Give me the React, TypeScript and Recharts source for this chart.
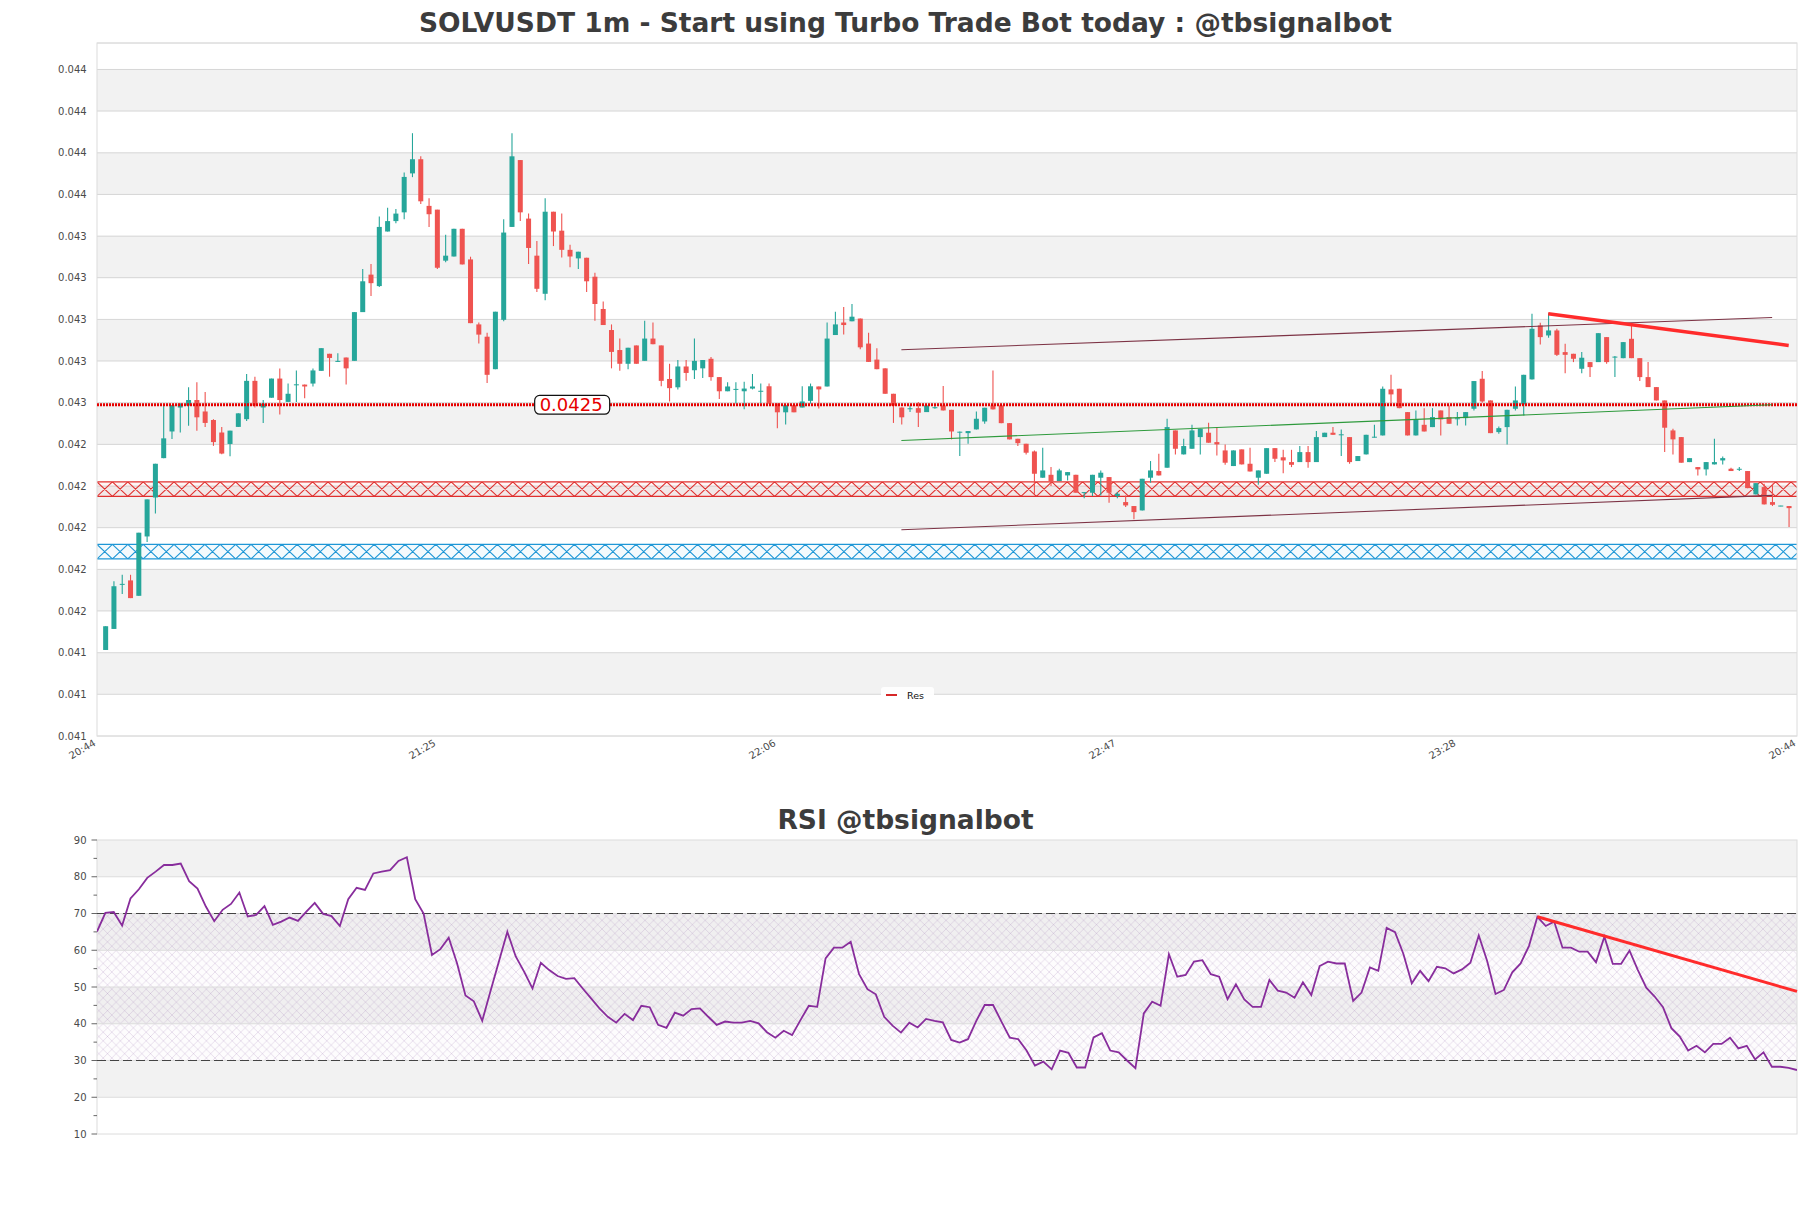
import React from 'react';
import {
  ComposedChart,
  Bar,
  Line,
  XAxis,
  YAxis,
  CartesianGrid,
  ReferenceLine,
  ReferenceArea,
  ReferenceDot,
} from 'recharts';

// ---------------- data ----------------
const candleOpen = [
  0.041323, 0.041424, 0.041636, 0.041657, 0.041583, 0.041868, 0.042055, 0.042244, 0.042372, 0.042487,
  0.042496, 0.042523, 0.042468, 0.042427, 0.042367, 0.042312, 0.042394, 0.042431, 0.042615, 0.042487,
  0.042534, 0.042626, 0.042514, 0.042594, 0.042597, 0.042602, 0.042663, 0.042745, 0.042706, 0.042727,
  0.042711, 0.042945, 0.043125, 0.04307, 0.043332, 0.043382, 0.043424, 0.043611, 0.043679, 0.043455,
  0.043437, 0.043192, 0.043212, 0.043345, 0.043198, 0.042886, 0.042827, 0.042671, 0.042908, 0.043354,
  0.043675, 0.043394, 0.043216, 0.043033, 0.043427, 0.043336, 0.043244, 0.043203, 0.043206, 0.043115,
  0.04296, 0.042859, 0.042763, 0.042697, 0.042785, 0.042711, 0.042818, 0.042785, 0.042624, 0.042584,
  0.042684, 0.042666, 0.042675, 0.042721, 0.042633, 0.042565, 0.042572, 0.042565, 0.042578, 0.042563,
  0.042589, 0.042506, 0.042464, 0.042498, 0.042487, 0.042519, 0.042588, 0.042588, 0.042835, 0.042895,
  0.042901, 0.042914, 0.042794, 0.042717, 0.042675, 0.042553, 0.042487, 0.042479, 0.042484, 0.042465,
  0.042484, 0.042497, 0.042476, 0.042367, 0.042364, 0.042382, 0.04242, 0.042497, 0.042497, 0.042412,
  0.042337, 0.042313, 0.042276, 0.04215, 0.042164, 0.042134, 0.042161, 0.042164, 0.042077, 0.042078,
  0.04215, 0.042153, 0.042062, 0.042033, 0.042014, 0.041993, 0.04215, 0.042182, 0.042198, 0.042377,
  0.042262, 0.042289, 0.042345, 0.042366, 0.042321, 0.042281, 0.042206, 0.042286, 0.042217, 0.04215,
  0.042169, 0.042292, 0.042248, 0.042225, 0.042225, 0.042273, 0.042225, 0.042345, 0.042366, 0.042354,
  0.042345, 0.04223, 0.042262, 0.042343, 0.042353, 0.042574, 0.042577, 0.042465, 0.042353, 0.042404,
  0.042393, 0.042473, 0.042441, 0.042431, 0.042436, 0.042481, 0.042625, 0.042521, 0.042369, 0.042393,
  0.042481, 0.042502, 0.042622, 0.042881, 0.042833, 0.042857, 0.042753, 0.042745, 0.042673, 0.042705,
  0.042705, 0.042825, 0.042727, 0.042724, 0.042817, 0.042724, 0.042633, 0.042585, 0.042521, 0.042377,
  0.042345, 0.042225, 0.042201, 0.04219, 0.042214, 0.042233, 0.042193, 0.042189, 0.042182, 0.04207,
  0.042105, 0.042033, 0.042013, 0.042014,
];

const candleHigh = [
  0.041437, 0.041653, 0.041684, 0.041684, 0.041886, 0.042046, 0.042217, 0.042501, 0.042498, 0.042508,
  0.042584, 0.042608, 0.042562, 0.042431, 0.042394, 0.042376, 0.042459, 0.042648, 0.042635, 0.042523,
  0.042626, 0.042674, 0.042602, 0.042665, 0.042597, 0.042674, 0.042772, 0.042745, 0.042748, 0.042727,
  0.042945, 0.043152, 0.043176, 0.043404, 0.043446, 0.04344, 0.043615, 0.043804, 0.043693, 0.043492,
  0.043437, 0.043317, 0.043345, 0.043345, 0.043211, 0.042895, 0.042846, 0.042947, 0.043391, 0.043804,
  0.043675, 0.043418, 0.043286, 0.043492, 0.043427, 0.043418, 0.043268, 0.043235, 0.043206, 0.043134,
  0.042996, 0.042886, 0.042818, 0.042774, 0.042785, 0.042904, 0.042895, 0.042785, 0.042697, 0.042715,
  0.042715, 0.042818, 0.042715, 0.04273, 0.042633, 0.042608, 0.042608, 0.042611, 0.042648, 0.042602,
  0.042602, 0.042506, 0.042498, 0.042498, 0.042589, 0.042602, 0.042588, 0.042895, 0.042947, 0.042969,
  0.042984, 0.042914, 0.042846, 0.042772, 0.042675, 0.042553, 0.042487, 0.042497, 0.042513, 0.042497,
  0.042494, 0.04259, 0.042476, 0.042372, 0.042374, 0.042468, 0.042486, 0.042665, 0.042497, 0.042412,
  0.042337, 0.042313, 0.042281, 0.042294, 0.042201, 0.042193, 0.042177, 0.042164, 0.04208, 0.042164,
  0.042185, 0.042153, 0.042081, 0.042065, 0.042014, 0.042145, 0.04223, 0.042265, 0.042433, 0.042377,
  0.042337, 0.042404, 0.042385, 0.042414, 0.042393, 0.04231, 0.042281, 0.042286, 0.042294, 0.042185,
  0.042292, 0.042292, 0.042284, 0.042284, 0.042302, 0.042302, 0.042374, 0.042366, 0.042393, 0.042382,
  0.042345, 0.042254, 0.042356, 0.042404, 0.042588, 0.042644, 0.042577, 0.042465, 0.042473, 0.042484,
  0.042484, 0.042473, 0.042497, 0.042465, 0.042465, 0.042614, 0.042662, 0.042521, 0.042396, 0.042476,
  0.042588, 0.042644, 0.042937, 0.042894, 0.04294, 0.042865, 0.042793, 0.042745, 0.042753, 0.042705,
  0.042844, 0.042825, 0.042734, 0.042801, 0.042881, 0.042724, 0.042705, 0.042585, 0.042521, 0.042385,
  0.042345, 0.042244, 0.042201, 0.042225, 0.042337, 0.042252, 0.042198, 0.042201, 0.042182, 0.042124,
  0.042121, 0.042121, 0.042015, 0.042014,
];

const candleLow = [
  0.041323, 0.041424, 0.041592, 0.041572, 0.041583, 0.041841, 0.041978, 0.042244, 0.042336, 0.042367,
  0.0424, 0.042376, 0.042394, 0.042303, 0.042263, 0.042253, 0.042394, 0.042422, 0.042487, 0.042413,
  0.042534, 0.042454, 0.042514, 0.042514, 0.042532, 0.042588, 0.042663, 0.042635, 0.042706, 0.042597,
  0.042711, 0.042945, 0.043022, 0.043066, 0.043332, 0.043372, 0.043391, 0.043593, 0.043464, 0.043354,
  0.043152, 0.043184, 0.043212, 0.043174, 0.042892, 0.042794, 0.042605, 0.042671, 0.042901, 0.043354,
  0.043382, 0.043176, 0.043042, 0.043002, 0.043262, 0.043207, 0.043161, 0.043152, 0.043042, 0.042904,
  0.042883, 0.042675, 0.042663, 0.042671, 0.042697, 0.042711, 0.042791, 0.042589, 0.042516, 0.042574,
  0.042615, 0.042624, 0.042629, 0.042615, 0.042528, 0.042565, 0.042506, 0.042479, 0.042574, 0.042506,
  0.042506, 0.042387, 0.042405, 0.042464, 0.042487, 0.042506, 0.042482, 0.042588, 0.042835, 0.042837,
  0.042901, 0.042767, 0.042706, 0.042671, 0.042553, 0.042413, 0.042405, 0.042465, 0.042393, 0.042465,
  0.042481, 0.042473, 0.042334, 0.042254, 0.042313, 0.042382, 0.042409, 0.042478, 0.042412, 0.042334,
  0.042302, 0.042262, 0.042073, 0.04215, 0.04211, 0.042134, 0.042137, 0.042078, 0.042052, 0.042062,
  0.042065, 0.04203, 0.042052, 0.042009, 0.04195, 0.041993, 0.042126, 0.042161, 0.042198, 0.042262,
  0.042262, 0.042289, 0.042262, 0.042318, 0.042257, 0.042212, 0.042206, 0.042214, 0.04218, 0.042116,
  0.042169, 0.042225, 0.042172, 0.042201, 0.042225, 0.042198, 0.042225, 0.042345, 0.042356, 0.042254,
  0.042217, 0.04223, 0.042262, 0.042343, 0.042353, 0.042505, 0.042484, 0.042353, 0.042353, 0.042372,
  0.042393, 0.042353, 0.042409, 0.042401, 0.042401, 0.042473, 0.04251, 0.042364, 0.042361, 0.04231,
  0.042473, 0.042449, 0.042622, 0.04279, 0.042822, 0.042734, 0.042652, 0.042705, 0.042652, 0.042633,
  0.042705, 0.042697, 0.042633, 0.042724, 0.042724, 0.042614, 0.042585, 0.042521, 0.042273, 0.042262,
  0.042222, 0.042225, 0.042161, 0.042161, 0.042214, 0.042214, 0.042182, 0.042182, 0.0421, 0.04207,
  0.042022, 0.042014, 0.042013, 0.041913,
];

const candleClose = [
  0.041437, 0.041629, 0.04164, 0.041572, 0.041886, 0.042046, 0.042217, 0.042339, 0.042498, 0.042505,
  0.042523, 0.04244, 0.042413, 0.042321, 0.042266, 0.042376, 0.042459, 0.042615, 0.042496, 0.042506,
  0.042626, 0.042523, 0.042553, 0.042598, 0.042588, 0.042665, 0.042772, 0.042725, 0.042711, 0.042675,
  0.042945, 0.043093, 0.043084, 0.043354, 0.043382, 0.043418, 0.043594, 0.043679, 0.043477, 0.043415,
  0.043158, 0.043216, 0.043345, 0.043174, 0.042892, 0.042837, 0.042644, 0.042947, 0.043327, 0.043693,
  0.043424, 0.043253, 0.043057, 0.043427, 0.043332, 0.043244, 0.043212, 0.043235, 0.043093, 0.042984,
  0.042883, 0.042754, 0.042697, 0.042774, 0.042697, 0.042818, 0.042791, 0.042615, 0.04258, 0.042684,
  0.042653, 0.042711, 0.042715, 0.042633, 0.042565, 0.042588, 0.042576, 0.042578, 0.042588, 0.042567,
  0.042506, 0.042464, 0.042498, 0.042464, 0.042516, 0.042589, 0.042574, 0.042818, 0.042886, 0.042883,
  0.042923, 0.042776, 0.042706, 0.042671, 0.042553, 0.042496, 0.04244, 0.042483, 0.042462, 0.042497,
  0.042488, 0.042473, 0.042372, 0.04237, 0.042374, 0.042433, 0.042486, 0.042478, 0.042412, 0.042334,
  0.042316, 0.04227, 0.042169, 0.042185, 0.042132, 0.042185, 0.042177, 0.042078, 0.04208, 0.042164,
  0.042174, 0.042078, 0.042073, 0.042017, 0.041985, 0.042145, 0.042185, 0.042161, 0.042393, 0.042289,
  0.042302, 0.042377, 0.042385, 0.042318, 0.04231, 0.042222, 0.042281, 0.042214, 0.04218, 0.042185,
  0.042292, 0.042241, 0.042233, 0.042212, 0.042273, 0.042225, 0.042345, 0.042366, 0.042356, 0.042358,
  0.042225, 0.042254, 0.042356, 0.042346, 0.042577, 0.04255, 0.042484, 0.042353, 0.04243, 0.042372,
  0.042441, 0.04243, 0.042409, 0.042435, 0.042465, 0.042614, 0.042516, 0.042364, 0.042388, 0.042476,
  0.042521, 0.042644, 0.042865, 0.042825, 0.042857, 0.04274, 0.04274, 0.042721, 0.042726, 0.042681,
  0.042844, 0.042705, 0.042731, 0.042801, 0.042724, 0.042633, 0.042585, 0.042521, 0.04239, 0.042334,
  0.042222, 0.042244, 0.04219, 0.042225, 0.042225, 0.042244, 0.042182, 0.042192, 0.0421, 0.042124,
  0.042022, 0.04202, 0.042015, 0.042004,
];

const rsiValues = [
  65.1, 70.2, 70.4, 66.7, 74.1, 76.6, 79.7, 81.4, 83.2, 83.2,
  83.6, 78.8, 76.8, 71.9, 67.9, 71.0, 72.6, 75.7, 69.2, 69.6,
  72.0, 66.9, 67.8, 68.9, 68.0, 70.5, 72.9, 69.9, 69.3, 66.6,
  73.9, 77.0, 76.4, 80.9, 81.4, 81.8, 84.3, 85.3, 73.9, 70.0,
  58.7, 60.3, 63.4, 56.4, 47.7, 46.1, 40.8, 49.0, 57.0, 65.0,
  58.3, 54.2, 49.6, 56.6, 54.6, 53.0, 52.2, 52.4, 49.6, 46.9,
  44.2, 41.9, 40.3, 42.7, 41.0, 44.9, 44.5, 39.7, 38.9, 43.0,
  42.2, 44.0, 44.2, 41.9, 39.7, 40.6, 40.3, 40.3, 40.8, 40.1,
  37.7, 36.2, 38.1, 36.9, 41.0, 44.9, 44.6, 57.8, 60.7, 60.7,
  62.3, 53.5, 49.4, 48.0, 41.9, 39.5, 37.6, 40.3, 39.0, 41.3,
  40.8, 40.4, 35.6, 34.9, 35.8, 40.8, 45.1, 45.1, 40.6, 36.2,
  35.8, 32.7, 28.6, 29.7, 27.6, 32.7, 32.1, 28.1, 28.1, 36.3,
  37.4, 32.7, 32.2, 30.0, 27.9, 42.8, 46.0, 44.9, 58.9, 52.8,
  53.3, 56.9, 57.3, 53.5, 52.8, 46.7, 50.7, 46.6, 44.6, 44.6,
  51.9, 49.0, 48.5, 47.1, 51.3, 47.8, 55.7, 56.9, 56.4, 56.4,
  46.2, 48.5, 55.3, 54.4, 66.1, 64.9, 59.0, 51.0, 54.4, 51.6,
  55.5, 55.1, 53.7, 54.8, 56.6, 64.0, 57.1, 48.1, 49.2, 54.0,
  56.4, 61.2, 69.1, 66.6, 67.8, 60.7, 60.7, 59.6, 59.6, 56.7,
  63.7, 56.3, 56.3, 59.9, 54.6, 49.8, 47.4, 44.5, 38.8, 36.5,
  32.7, 34.0, 32.2, 34.5, 34.5, 36.2, 33.3, 34.0, 30.3, 32.2,
  28.3, 28.3, 28.0, 27.4,
];

const timeTicks = [0, 41, 82, 123, 164, 205];
const timeLabels = ['20:44', '21:25', '22:06', '22:47', '23:28', '20:44'];
const candleDomain = [0, 205];

const priceTicks = [
  0.04091, 0.04111, 0.04131, 0.04151, 0.04171, 0.04191, 0.04211, 0.04231, 0.04251,
  0.04271, 0.04291, 0.04311, 0.04331, 0.04351, 0.04371, 0.04391, 0.04411,
];
const priceDomain = [0.04091, 0.044237];

const resistanceLevel = 0.0425;
const resistanceLabelAt = 57.3;
const redZone = [0.04206, 0.04213];
const blueZone = [0.04176, 0.04183];
const channelUpper = [{ x: 97, y: 0.042764 }, { x: 202, y: 0.042919 }];
const channelLower = [{ x: 97, y: 0.0419 }, { x: 202, y: 0.042065 }];
const channelMid = [{ x: 97, y: 0.042329 }, { x: 202, y: 0.0425 }];
const resTrend = [{ x: 175, y: 0.042937 }, { x: 204, y: 0.042785 }];

const rsiMajorTicks = [10, 20, 30, 40, 50, 60, 70, 80, 90];
const rsiMinorTicks = [15, 25, 35, 45, 55, 65, 75, 85];
const rsiOverbought = 70;
const rsiOversold = 30;
const rsiTrend = [{ x: 172, y: 69.1 }, { x: 203, y: 48.8 }];

// ---------------- derived tables ----------------
const candleRows = candleOpen.map((o, k) => ({
  i: k + 1,
  open: o,
  high: candleHigh[k],
  low: candleLow[k],
  close: candleClose[k],
}));
const rsiRows = rsiValues.map((v, j) => ({ j, v }));
const rsiTicks = [...rsiMajorTicks, ...rsiMinorTicks].sort((a, b) => a - b);
const priceShaded = priceTicks
  .slice(0, -1)
  .map((t, k) => [t, priceTicks[k + 1]])
  .filter((_, k) => k % 2 === 1);
const rsiShaded = rsiMajorTicks
  .slice(0, -1)
  .map((t, k) => [t, rsiMajorTicks[k + 1]])
  .filter((_, k) => k % 2 === 1);
const rsiGrid = rsiMajorTicks.slice(1, -1);

// ---------------- styles ----------------
const FONT = '"DejaVu Sans", Verdana, sans-serif';
const UP = '#26a69a';
const DOWN = '#ef5350';
const TICK_COLOR = '#4a4a4a';
const GRID = '#dcdcdc';

const candleRange = (d: any) => [d.low, d.high];

function CandleShape(props: any) {
  const { x, y, width, height, payload } = props;
  if (payload == null || x == null || y == null) return null;
  const { open, close, high, low } = payload;
  const top = Math.min(y, y + height);
  const h = Math.abs(height);
  const span = high - low;
  const py = (p: number) => (span > 0 ? top + ((high - p) / span) * h : top);
  const up = close >= open;
  const color = up ? UP : DOWN;
  const cx = x + width / 2;
  const bTop = py(Math.max(open, close));
  const bBot = py(Math.min(open, close));
  const raw = bBot - bTop;
  const bh = Math.max(1, raw);
  return (
    <g>
      <line x1={cx} x2={cx} y1={top} y2={top + h} stroke={color} strokeWidth={1.1} />
      <rect x={x} y={bTop - (bh - raw) / 2} width={width} height={bh} fill={color} />
    </g>
  );
}

function HatchBand(props: any) {
  const { x, y, width, height, color, tint, id } = props;
  if (x == null || y == null) return null;
  const step = 15.4;
  let d = '';
  for (let sx = x; sx < x + width; sx += step) {
    d += `M${sx},${y}L${sx + step},${y + height}M${sx + step},${y}L${sx},${y + height}`;
  }
  return (
    <g>
      <defs>
        <clipPath id={id}>
          <rect x={x} y={y} width={width} height={height} />
        </clipPath>
      </defs>
      <rect x={x} y={y} width={width} height={height} fill={tint} />
      <path d={d} stroke={color} strokeWidth={1.1} fill="none" clipPath={`url(#${id})`} />
      <line x1={x} x2={x + width} y1={y} y2={y} stroke={color} strokeWidth={1.2} />
      <line x1={x} x2={x + width} y1={y + height} y2={y + height} stroke={color} strokeWidth={1.2} />
    </g>
  );
}

function RsiHatch(props: any) {
  const { x, y, width, height } = props;
  if (x == null || y == null) return null;
  return (
    <g>
      <defs>
        <pattern id="rsiHatchPattern" patternUnits="userSpaceOnUse" width={8.6} height={8.6}>
          <path d="M0,0L8.6,8.6M8.6,0L0,8.6" stroke="#9a72b0" strokeWidth={0.55} strokeOpacity={0.4} fill="none" />
        </pattern>
      </defs>
      <rect x={x} y={y} width={width} height={height} fill="#9a72b0" fillOpacity={0.025} />
      <rect x={x} y={y} width={width} height={height} fill="url(#rsiHatchPattern)" />
    </g>
  );
}

function LevelLabel(props: any) {
  const { cx, cy } = props;
  if (cx == null || cy == null) return null;
  return (
    <g>
      <rect x={cx - 37.5} y={cy - 9.4} width={75} height={18.8} rx={5} ry={5} fill="#ffffff" stroke="#111111" strokeWidth={1.2} />
      <text x={cx - 1} y={cy} dy="0.36em" textAnchor="middle" fontSize={18} fontFamily={FONT} fill="#e60000">
        {resistanceLevel.toFixed(4)}
      </text>
    </g>
  );
}

function BorderBox(props: any) {
  const { x, y, width, height } = props;
  if (x == null || y == null) return null;
  return <rect x={x} y={y} width={width} height={height} fill="none" stroke={GRID} strokeWidth={1} />;
}

function TimeTick(props: any) {
  const { x, y, payload } = props;
  const k = timeTicks.indexOf(payload.value);
  const label = k >= 0 ? timeLabels[k] : '';
  const ax = x - 0.5;
  const ay = y + 9;
  return (
    <text x={ax} y={ay} textAnchor="end" transform={`rotate(-30 ${ax} ${ay})`} fontSize={10} fontFamily={FONT} fill={TICK_COLOR}>
      {label}
    </text>
  );
}

function PriceTick(props: any) {
  const { x, y, payload } = props;
  return (
    <text x={x - 10.3} y={y} dy="0.35em" textAnchor="end" fontSize={10} fontFamily={FONT} fill={TICK_COLOR}>
      {Number(payload.value).toFixed(3)}
    </text>
  );
}

function RsiTick(props: any) {
  const { x, y, payload } = props;
  const v = payload.value;
  const major = v % 10 === 0;
  return (
    <g>
      <line x1={x - (major ? 5.5 : 3.5)} x2={x} y1={y} y2={y} stroke="#666" strokeWidth={1} />
      {major && (
        <text x={x - 10.5} y={y} dy="0.35em" textAnchor="end" fontSize={10} fontFamily={FONT} fill={TICK_COLOR}>
          {v}
        </text>
      )}
    </g>
  );
}

export default function App() {
  return (
    <div style={{ position: 'absolute', left: 0, top: 0, width: 1811, height: 1208, background: '#ffffff', fontFamily: FONT }}>
      <div style={{ position: 'absolute', left: 0, top: 0 }}>
        <ComposedChart width={1811} height={800} data={candleRows} margin={{ top: 43, right: 14, bottom: 24, left: 7 }}>
          <CartesianGrid vertical={false} stroke={GRID} />
          <XAxis
            dataKey="i"
            type="number"
            domain={candleDomain}
            ticks={timeTicks}
            interval={0}
            tick={<TimeTick />}
            tickLine={false}
            axisLine={false}
            tickSize={0}
            tickMargin={0}
            height={40}
            allowDataOverflow
          />
          <YAxis
            type="number"
            domain={priceDomain}
            ticks={priceTicks}
            interval={0}
            tick={<PriceTick />}
            tickLine={false}
            axisLine={false}
            tickSize={0}
            tickMargin={0}
            width={90}
            allowDataOverflow
          />
          {priceShaded.map(([a, b], k) => (
            <ReferenceArea key={`ps${k}`} y1={a} y2={b} fill="#000000" fillOpacity={0.05} stroke="none" />
          ))}
          <ReferenceArea
            y1={redZone[0]}
            y2={redZone[1]}
            shape={(p: any) => <HatchBand {...p} id="redHatchClip" color="#e0302f" tint="rgba(255,60,60,0.05)" />}
          />
          <ReferenceArea
            y1={blueZone[0]}
            y2={blueZone[1]}
            shape={(p: any) => <HatchBand {...p} id="blueHatchClip" color="#1f97d6" tint="rgba(30,150,215,0.05)" />}
          />
          <Bar dataKey={candleRange} barSize={5} shape={<CandleShape />} isAnimationActive={false} />
          <ReferenceLine y={resistanceLevel} stroke="#e60000" strokeWidth={3} strokeDasharray="2 1" />
          <ReferenceLine segment={channelUpper} stroke="#7d3345" strokeWidth={1.1} />
          <ReferenceLine segment={channelLower} stroke="#7d3345" strokeWidth={1.1} />
          <ReferenceLine segment={channelMid} stroke="#2e9a3c" strokeWidth={1.1} />
          <ReferenceLine segment={resTrend} stroke="#ff2b2b" strokeWidth={3.5} />
          <ReferenceDot x={resistanceLabelAt} y={resistanceLevel} r={1} shape={(p: any) => <LevelLabel {...p} />} />
          <ReferenceArea y1={priceDomain[0]} y2={priceDomain[1]} shape={(p: any) => <BorderBox {...p} />} />
        </ComposedChart>
      </div>

      <div style={{ position: 'absolute', left: 0, top: 800 }}>
        <ComposedChart width={1811} height={360} data={rsiRows} margin={{ top: 40, right: 14, bottom: 26, left: 7 }}>
          <XAxis dataKey="j" type="number" domain={[0, rsiValues.length - 1]} hide allowDataOverflow />
          <YAxis
            type="number"
            domain={[10, 90]}
            ticks={rsiTicks}
            interval={0}
            tick={<RsiTick />}
            tickLine={false}
            axisLine={false}
            tickSize={0}
            tickMargin={0}
            width={90}
            allowDataOverflow
          />
          {rsiShaded.map(([a, b], k) => (
            <ReferenceArea key={`rs${k}`} y1={a} y2={b} fill="#000000" fillOpacity={0.05} stroke="none" />
          ))}
          <ReferenceArea y1={rsiOversold} y2={rsiOverbought} shape={(p: any) => <RsiHatch {...p} />} />
          {rsiGrid.map((v) => (
            <ReferenceLine key={`rg${v}`} y={v} stroke={GRID} strokeWidth={1} />
          ))}
          <ReferenceLine y={rsiOverbought} stroke="#444444" strokeWidth={1.2} strokeDasharray="9 4" />
          <ReferenceLine y={rsiOversold} stroke="#444444" strokeWidth={1.2} strokeDasharray="9 4" />
          <Line dataKey="v" type="linear" stroke="#882d9c" strokeWidth={1.8} dot={false} isAnimationActive={false} />
          <ReferenceLine segment={rsiTrend} stroke="#ff2b2b" strokeWidth={3} />
          <ReferenceArea y1={10} y2={90} shape={(p: any) => <BorderBox {...p} />} />
        </ComposedChart>
      </div>

      <svg width={1811} height={1208} style={{ position: 'absolute', left: 0, top: 0, pointerEvents: 'none' }}>
        <text x={905.5} y={32.3} textAnchor="middle" fontSize={26.5} fontWeight="bold" fontFamily={FONT} fill="#3c3c3c">
          SOLVUSDT 1m - Start using Turbo Trade Bot today : @tbsignalbot
        </text>
        <text x={905.5} y={829.3} textAnchor="middle" fontSize={26.5} fontWeight="bold" fontFamily={FONT} fill="#3c3c3c">
          RSI @tbsignalbot
        </text>
        <g>
          <rect x={881} y={687} width={53} height={15} rx={3} ry={3} fill="#ffffff" fillOpacity={0.92} />
          <line x1={886} x2={897} y1={695} y2={695} stroke="#d62728" strokeWidth={2} />
          <text x={907} y={698.5} fontSize={9.5} fontFamily={FONT} fill="#111111">
            Res
          </text>
        </g>
      </svg>
    </div>
  );
}
